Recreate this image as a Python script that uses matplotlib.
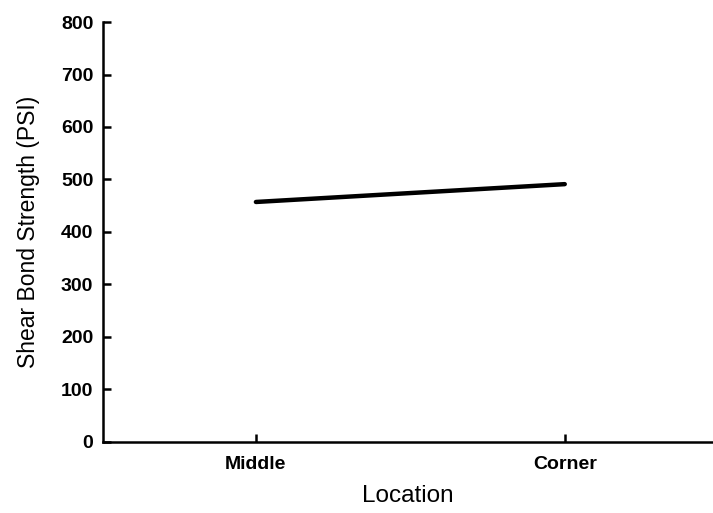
import matplotlib
matplotlib.use("Agg")
import matplotlib.pyplot as plt

plt.rcParams['font.family'] = ['Liberation Sans', 'DejaVu Sans']

locations = ["Middle", "Corner"]
strength = [457, 491]
yticks = [0, 100, 200, 300, 400, 500, 600, 700, 800]

fig = plt.figure(figsize=(7.13, 5.13), dpi=100)
ax = fig.add_axes([0.1445, 0.139, 0.8555, 0.818])

x = list(range(len(locations)))
ax.plot(x, strength, color='black', linewidth=3.2, solid_capstyle='round')

ax.set_xlim(-0.495, 1.48)
ax.set_ylim(0, 800)
ax.set_xticks(x)
ax.set_xticklabels(locations, fontsize=14, fontweight='bold')
ax.set_yticks(yticks)
ax.set_yticklabels([str(v) for v in yticks], fontsize=14, fontweight='bold')

for side in ('top', 'right'):
    ax.spines[side].set_visible(False)
for side in ('left', 'bottom'):
    ax.spines[side].set_linewidth(1.8)

ax.tick_params(axis='both', direction='in', length=6, width=1.8)
ax.tick_params(axis='y', pad=7)
ax.tick_params(axis='x', pad=10)

ax.set_ylabel("Shear Bond Strength (PSI)", fontsize=16.5, labelpad=15)
ax.set_xlabel("Location", fontsize=17.5, labelpad=9)

fig.savefig("out.png", dpi=100)
